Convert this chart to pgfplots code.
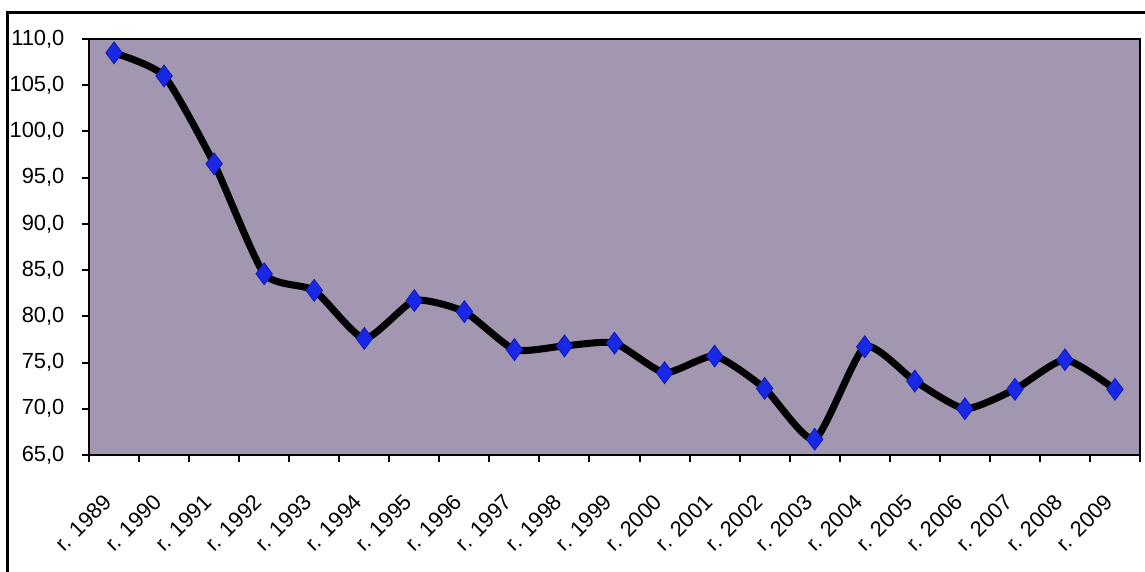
\documentclass[border=0pt]{standalone}
\usepackage{fontspec}
\setmainfont{Liberation Sans}
\usepackage{pgfplots}
\pgfplotsset{compat=1.18}

\definecolor{plotbg}{RGB}{163,150,176}
\definecolor{markblue}{RGB}{25,40,230}

\begin{document}
\begin{tikzpicture}
  \useasboundingbox (-1.244,-1.635) rectangle (14.757,6.358);
  % frame of the original picture (only left and top edges visible)
  \draw[line width=1.2pt] (-1.146,-1.7) -- (-1.146,6.19) -- (14.9,6.19);
  \begin{axis}[
    at={(0,0)}, anchor=south west,
    scale only axis,
    width=14.687cm, height=5.813cm,
    axis background/.style={fill=plotbg},
    axis line style={line width=0.9pt},
    xmin=-0.5, xmax=20.5,
    ymin=65, ymax=110,
    ytick distance=5,
    xtick={0,...,20},
    xticklabels={r. 1989,r. 1990,r. 1991,r. 1992,r. 1993,r. 1994,r. 1995,
      r. 1996,r. 1997,r. 1998,r. 1999,r. 2000,r. 2001,r. 2002,r. 2003,
      r. 2004,r. 2005,r. 2006,r. 2007,r. 2008,r. 2009},
    minor xtick={-0.5,0.5,...,20.5},
    major x tick style={draw=none},
    xtick pos=lower, ytick pos=left,
    tick align=outside,
    tick style={black, line width=0.8pt},
    major tick length=0.1cm,
    minor tick length=0.1cm,
    /pgf/number format/assume math mode=true,
    yticklabel style={
      /pgf/number format/.cd, fixed, fixed zerofill, precision=1, use comma,
      /tikz/.cd, font=\fontsize{8.7}{10}\selectfont, xshift=-0.12cm},
    xticklabel style={font=\fontsize{8.7}{10}\selectfont,
      yshift=-0.42cm, rotate=45, anchor=east},
    clip=false,
  ]
    \addplot[black, line width=2.8pt, smooth, tension=0.35,
      mark=diamond*, mark size=4.3pt,
      mark options={fill=markblue, draw=markblue!80!black, line width=0.4pt}]
      coordinates {
      (0,108.5) (1,106.0) (2,96.5) (3,84.6) (4,82.8) (5,77.6) (6,81.7)
      (7,80.5) (8,76.4) (9,76.8) (10,77.1) (11,73.9) (12,75.7) (13,72.2)
      (14,66.7) (15,76.7) (16,73.0) (17,70.0) (18,72.1) (19,75.3) (20,72.1)
    };
  \end{axis}
\end{tikzpicture}
\end{document}
